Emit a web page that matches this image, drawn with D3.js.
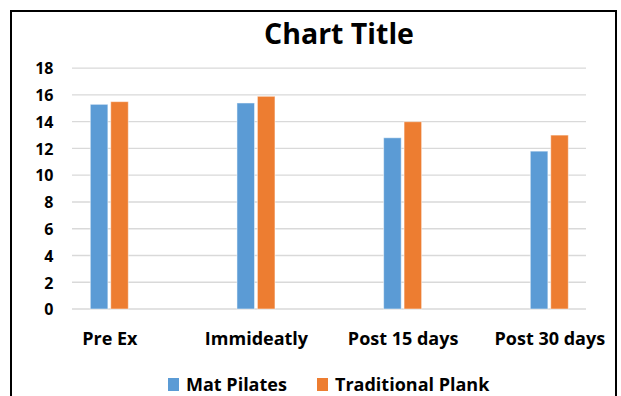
<!DOCTYPE html>
<html>
<head>
<meta charset="utf-8">
<script src="https://cdn.jsdelivr.net/npm/d3@7"></script>
<style>
  html, body { margin: 0; padding: 0; background: #fff; }
  svg text { font-family: "Open Sans", sans-serif; font-weight: 700; fill: #000; }
</style>
</head>
<body>
<svg id="chart" width="621" height="396"></svg>
<script>
const categories = ["Pre Ex", "Immideatly", "Post 15 days", "Post 30 days"];
const seriesNames = ["Mat Pilates", "Traditional Plank"];
const matPilates = [15.3, 15.4, 12.8, 11.8];
const traditionalPlank = [15.5, 15.9, 14.0, 13.0];
const yTicks = [0, 2, 4, 6, 8, 10, 12, 14, 16, 18];
const colors = ["#5B9BD5", "#ED7D31"];

const svg = d3.select("#chart");

// outer frame
svg.append("rect")
  .attr("x", 11).attr("y", 11).attr("width", 605).attr("height", 400)
  .attr("fill", "#fff").attr("stroke", "#000").attr("stroke-width", 2);

const plotLeft = 72, plotRight = 586;
const y = d3.scaleLinear().domain([0, 18]).range([309, 68.2]);
const x = d3.scalePoint().domain(categories).range([109.3, 549.3]);
const sub = d3.scaleBand().domain(seriesNames).range([-19, 19]).paddingInner(0.14);

// gridlines
svg.append("g").selectAll("line").data(yTicks).join("line")
  .attr("x1", plotLeft).attr("x2", plotRight)
  .attr("y1", d => y(d)).attr("y2", d => y(d))
  .attr("stroke", "#d9d9d9").attr("stroke-width", 1.3);

// y axis labels
const yAxis = d3.axisLeft(y).tickValues(yTicks).tickSize(0).tickPadding(0);
const gy = svg.append("g").attr("transform", "translate(53.5,0)").call(yAxis);
gy.select(".domain").remove();
gy.selectAll("text").attr("font-size", 16).attr("dy", "0.36em")
  .style("font-family", "'Open Sans', sans-serif").style("font-weight", 700);

// bars
const data = categories.map((c, i) => ({ c, vals: [matPilates[i], traditionalPlank[i]] }));
const groups = svg.append("g").selectAll("g").data(data).join("g")
  .attr("transform", d => `translate(${x(d.c)},0)`);
groups.selectAll("rect").data(d => d.vals.map((v, j) => ({ v, s: seriesNames[j], j })))
  .join("rect")
  .attr("x", d => sub(d.s))
  .attr("width", sub.bandwidth())
  .attr("y", d => y(d.v))
  .attr("height", d => y(0) - y(d.v))
  .attr("fill", d => colors[d.j])
  .attr("stroke", "#fff").attr("stroke-opacity", 0.5).attr("stroke-width", 1);

// x axis labels
const xAxis = d3.axisBottom(x).tickSize(0).tickPadding(0);
const gx = svg.append("g").attr("transform", "translate(0,339)").call(xAxis);
gx.select(".domain").remove();
gx.selectAll("text").attr("font-size", 18).attr("dy", "0.36em")
  .style("font-family", "'Open Sans', sans-serif").style("font-weight", 700);

// title
svg.append("text").attr("x", 339).attr("y", 43.5).attr("text-anchor", "middle")
  .attr("font-size", 28.5).text("Chart Title");

// legend
const legendItems = [
  { name: seriesNames[0], color: colors[0], x: 168 },
  { name: seriesNames[1], color: colors[1], x: 317 }
];
const lg = svg.append("g").selectAll("g").data(legendItems).join("g")
  .attr("transform", d => `translate(${d.x},378)`);
lg.append("rect").attr("width", 11).attr("height", 13).attr("fill", d => d.color);
lg.append("text").attr("x", 18).attr("y", 13).attr("font-size", 18).text(d => d.name);
</script>
</body>
</html>
